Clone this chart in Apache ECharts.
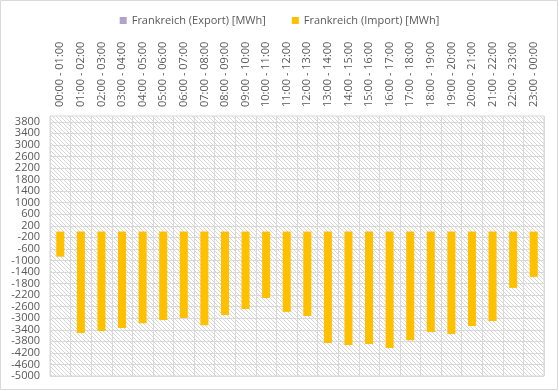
<!DOCTYPE html>
<html><head><meta charset="utf-8">
<script src="https://cdn.jsdelivr.net/npm/echarts@6/dist/echarts.min.js"></script>
<style>html,body{margin:0;padding:0;background:#fff}#c{width:559px;height:391px}</style>
</head><body><div id="c"></div>
<script>
const categories = ["00:00 - 01:00","01:00 - 02:00","02:00 - 03:00","03:00 - 04:00","04:00 - 05:00","05:00 - 06:00","06:00 - 07:00","07:00 - 08:00","08:00 - 09:00","09:00 - 10:00","10:00 - 11:00","11:00 - 12:00","12:00 - 13:00","13:00 - 14:00","14:00 - 15:00","15:00 - 16:00","16:00 - 17:00","17:00 - 18:00","18:00 - 19:00","19:00 - 20:00","20:00 - 21:00","21:00 - 22:00","22:00 - 23:00","23:00 - 00:00"];
const exportValues = [0,0,0,0,0,0,0,0,0,0,0,0,0,0,0,0,0,0,0,0,0,0,0,0];
const importValues = [-870,-3510,-3440,-3340,-3170,-3060,-2990,-3240,-2890,-2680,-2300,-2780,-2920,-3860,-3930,-3890,-4030,-3760,-3480,-3550,-3270,-3100,-1950,-1570];
const yTicks = [-5000,-4600,-4200,-3800,-3400,-3000,-2600,-2200,-1800,-1400,-1000,-600,-200,200,600,1000,1400,1800,2200,2600,3000,3400,3800];

const pc = document.createElement('canvas');
pc.width = 4; pc.height = 4;
const pctx = pc.getContext('2d');
pctx.fillStyle = '#ffffff'; pctx.fillRect(0,0,4,4);
pctx.fillStyle = '#d6d6d6';
for (let i = 0; i < 4; i++) pctx.fillRect(i, i, 1, 1);

const font = 'Open Sans';
const chart = echarts.init(document.getElementById('c'));
chart.setOption({
  animation: false,
  textStyle: {fontFamily: font},
  graphic: [{type:'rect', shape:{x:0.5,y:0.5,width:557,height:389}, style:{fill:'none', stroke:'#d9d9d9', lineWidth:1}, z:-10}],
  legend: {
    top: 10, left: 'center', icon: 'rect', itemWidth: 7, itemHeight: 7, itemGap: 26,
    textStyle: {color:'#595959', fontSize: 11, fontFamily: font},
    data: ['Frankreich (Export) [MWh]','Frankreich (Import) [MWh]']
  },
  grid: {left: 50, right: 15, top: 116, bottom: 15, show: true, borderColor: '#d9d9d9', borderWidth: 1,
    backgroundColor: {image: pc, repeat: 'repeat'}},
  xAxis: {
    type: 'category', position: 'top', data: categories,
    axisLine: {show: false}, axisTick: {show: false},
    axisLabel: {rotate: 90, interval: 0, margin: 9, color: '#595959', fontSize: 11, fontFamily: font},
    splitLine: {show: true, interval: 0, lineStyle: {color: '#d9d9d9', width: 1}}
  },
  yAxis: {
    type: 'value', min: -5000, max: 4000,
    axisLine: {show: false},
    axisTick: {show: false, customValues: yTicks},
    axisLabel: {customValues: yTicks, formatter: function (v) { return String(v); }, color: '#595959', fontSize: 11, margin: 10, fontFamily: font},
    splitLine: {show: true, lineStyle: {color: '#d9d9d9', width: 1}}
  },
  series: [
    {name: 'Frankreich (Export) [MWh]', type: 'bar', stack: 'a', data: exportValues, itemStyle: {color: '#B3A2C7'}, barWidth: '39%'},
    {name: 'Frankreich (Import) [MWh]', type: 'bar', stack: 'a', data: importValues, itemStyle: {color: '#FFC000'}, barWidth: '39%'}
  ]
});
</script></body></html>
